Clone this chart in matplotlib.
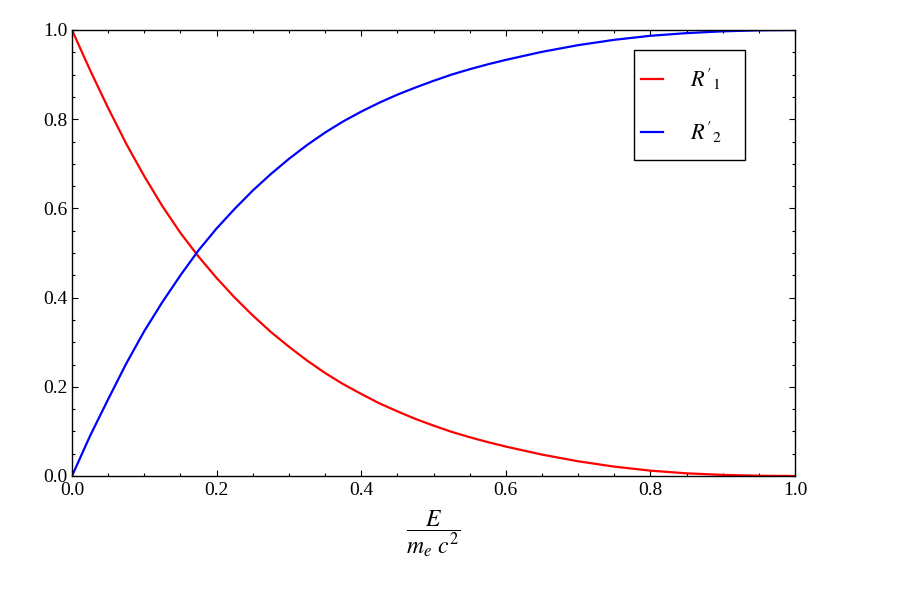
import matplotlib
matplotlib.use("Agg")
import matplotlib.pyplot as plt
from matplotlib.ticker import MultipleLocator, FormatStrFormatter
from matplotlib.patches import Rectangle

# values
energy = [0.0, 0.025, 0.05, 0.075, 0.1, 0.125, 0.15, 0.175, 0.2, 0.225, 0.25, 0.275,
          0.3, 0.325, 0.35, 0.375, 0.4, 0.425, 0.45, 0.475, 0.5, 0.525, 0.55, 0.575,
          0.6, 0.65, 0.7, 0.75, 0.8, 0.85, 0.9, 0.95, 1.0]
r1 = [1.0, 0.910, 0.825, 0.745, 0.672, 0.605, 0.545, 0.492, 0.444, 0.400, 0.360, 0.323,
      0.290, 0.259, 0.231, 0.206, 0.184, 0.163, 0.145, 0.128, 0.113, 0.099, 0.087, 0.076,
      0.066, 0.048, 0.033, 0.021, 0.012, 0.006, 0.0025, 0.0006, 0.0]
r2 = [0.0, 0.090, 0.172, 0.252, 0.325, 0.390, 0.450, 0.506, 0.555, 0.599, 0.640, 0.677,
      0.711, 0.742, 0.770, 0.795, 0.817, 0.837, 0.855, 0.871, 0.886, 0.900, 0.912, 0.923,
      0.933, 0.951, 0.966, 0.978, 0.987, 0.993, 0.997, 0.9993, 1.0]
labels = [r"$R'_{\mathit{1}}$", r"$R'_{\mathit{2}}$"]

plt.rcParams['font.family'] = ['Liberation Serif', 'DejaVu Serif']
plt.rcParams['mathtext.fontset'] = 'stix'

fig = plt.figure(figsize=(9, 6), dpi=100)
ax = fig.add_axes([72/900, 1 - 476/600, 723/900, 446/600])

ax.plot(energy, r1, color='#ff0000', lw=1.6, label=labels[0])
ax.plot(energy, r2, color='#0000ff', lw=1.6, label=labels[1])

ax.set_xlim(0, 1)
ax.set_ylim(0, 1)
ax.xaxis.set_major_locator(MultipleLocator(0.2))
ax.yaxis.set_major_locator(MultipleLocator(0.2))
ax.xaxis.set_minor_locator(MultipleLocator(0.05))
ax.yaxis.set_minor_locator(MultipleLocator(0.05))
ax.xaxis.set_major_formatter(FormatStrFormatter('%.1f'))
ax.yaxis.set_major_formatter(FormatStrFormatter('%.1f'))
ax.tick_params(which='both', direction='in', top=True, right=True, labelsize=14)
ax.tick_params(which='major', length=4, width=0.8)
ax.tick_params(which='minor', length=2.5, width=0.8)
ax.tick_params(axis='x', pad=4)
ax.tick_params(axis='y', pad=3)
for s in ax.spines.values():
    s.set_linewidth(1.0)

ax.set_xlabel(r"$\dfrac{E}{m_e\ c^2}$", fontsize=17, labelpad=7)

# legend box (drawn separately so the padding can be uneven, as in the original)
ax.add_patch(Rectangle((0.777, 0.709), 0.154, 0.246, transform=ax.transAxes,
                       fill=True, facecolor='white', edgecolor='black', lw=1.0, zorder=4))
leg = ax.legend(loc='upper left', bbox_to_anchor=(0.787, 0.918), frameon=False,
                fontsize=16, handlelength=1.0, handletextpad=1.2, labelspacing=1.25,
                borderpad=0, borderaxespad=0)
leg.set_zorder(5)

fig.savefig('out.png', dpi=100)
